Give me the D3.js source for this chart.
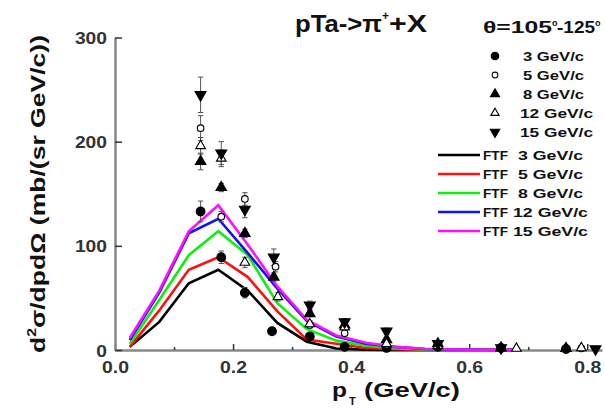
<!DOCTYPE html>
<html><head><meta charset="utf-8">
<script src="https://cdn.jsdelivr.net/npm/d3@7"></script>
<style>
body{margin:0;background:#fff}
text{font-family:"Liberation Sans",Arial,sans-serif;font-weight:bold}
</style>
</head><body>
<svg id="c" width="605" height="409"></svg>
<script>
// ---- data ----
const ptFTF = [0.025,0.075,0.125,0.175,0.225,0.275,0.325,0.375,0.425,0.475,0.525,0.575,0.625,0.675];
const ftf3  = [3, 27, 64, 77, 57, 26, 8, 1.5, 0.3, 0.1, 0, 0, 0, 0];
const ftf5  = [3, 38, 77, 89, 70, 37, 10, 6, 2, 0.8, 0.3, 0.1, 0, 0];
const ftf8  = [6, 48, 91, 114, 91, 45, 20, 9, 4, 1.5, 0.5, 0.2, 0.1, 0];
const ftf12 = [9.5, 55, 112, 126, 93, 59, 28, 13, 6, 3, 1, 0.5, 0.2, 0.1];
const ftf15 = [11.5, 57, 114, 139, 101, 61, 29, 14, 7, 3, 1.2, 0.5, 0.3, 0.1];

// experimental points: [pT, value, error]
const exp3  = [[0.145,133,10],[0.18,89,6],[0.22,55,5],[0.266,18,2],[0.33,13,2],[0.389,3,1],[0.46,2,1],[0.547,3,1],[0.654,2,1],[0.764,1,1]];
const exp5  = [[0.145,213,12],[0.18,128,5],[0.22,145,6],[0.272,80,5],[0.33,24,3],[0.389,16,2],[0.46,5,1],[0.547,4,1],[0.654,1.5,1],[0.79,1.5,1]];
const exp8  = [[0.145,181,8],[0.18,156,4],[0.22,112,4],[0.269,70,4],[0.33,35,3],[0.389,24,2],[0.46,10,2],[0.547,6,1],[0.654,2,1],[0.764,1.5,1]];
const exp12 = [[0.145,196,8],[0.18,184,8],[0.22,84,5],[0.276,51,4],[0.33,25,3],[0.389,22,2],[0.46,6,1],[0.547,4,1],[0.68,1.5,1],[0.79,2,1]];
const exp15 = [[0.145,245,17],[0.18,189,11],[0.22,135,8],[0.269,89,8],[0.33,43,4],[0.389,27,3],[0.46,18,3],[0.547,6,1],[0.654,2,1],[0.814,1,1]];

const expLabels = ["3 GeV/c","5 GeV/c","8 GeV/c","12 GeV/c","15 GeV/c"];
const ftfLabels = ["3 GeV/c","5 GeV/c","8 GeV/c","12 GeV/c","15 GeV/c"];
const ftfColors = ["#000000","#ff1010","#10ee10","#1010ff","#ff10ff"];
const xTicks = [0,0.2,0.4,0.6,0.8];
const xMinor = [0.1,0.3,0.5,0.7];
const yTicks = [0,100,200,300];

// ---- scales ----
const svg = d3.select("#c");
const x = d3.scaleLinear().domain([0,0.825]).range([115,602]);
const y = d3.scaleLinear().domain([0,300]).range([350,37.5]);

// ---- axes ----
const gx = svg.append("g").attr("transform","translate(0,350)")
  .call(d3.axisBottom(x).tickValues(xTicks).tickSize(-6).tickSizeOuter(0).tickFormat(d3.format(".1f")));
const gxm = svg.append("g").attr("transform","translate(0,350)")
  .call(d3.axisBottom(x).tickValues(xMinor).tickSize(-3).tickSizeOuter(0).tickFormat(""));
gxm.select(".domain").remove();
const gy = svg.append("g").attr("transform","translate(115,0)")
  .call(d3.axisLeft(y).tickValues(yTicks).tickSize(-7).tickSizeOuter(0));

[gx,gxm,gy].forEach(g=>{
  g.selectAll(".tick line").attr("stroke","#333").attr("stroke-width",1.5);
});
[gx,gy].forEach(g=>{
  g.select(".domain").attr("stroke","#888").attr("stroke-width",2.5);
});
gx.selectAll("text").attr("y",23).attr("dy",null)
  .attr("font-size",17).attr("fill","#333")
  .attr("textLength",27).attr("lengthAdjust","spacingAndGlyphs");
gy.selectAll("text").attr("x",-8).attr("dy","0.36em")
  .attr("font-size",17).attr("fill","#333")
  .each(function(d){ const n=String(d).length; d3.select(this).attr("textLength",n*10.7).attr("lengthAdjust","spacingAndGlyphs"); });

// ---- FTF lines ----
const line = d3.line().x(d=>x(d[0])).y(d=>y(d[1]));
[ftf3,ftf5,ftf8,ftf12,ftf15].forEach((arr,i)=>{
  svg.append("path").datum(ptFTF.map((p,j)=>[p,arr[j]]))
    .attr("d",line).attr("fill","none").attr("stroke",ftfColors[i])
    .attr("stroke-width",2.6).attr("stroke-linejoin","miter");
});

// ---- markers ----
const markerDefs = [
  {type:d3.symbolCircle, size:60, fill:"#000", rot:0},
  {type:d3.symbolCircle, size:34, fill:"#fff", rot:0},
  {type:d3.symbolTriangle, size:48, fill:"#000", rot:0},
  {type:d3.symbolTriangle, size:40, fill:"#fff", rot:0},
  {type:d3.symbolTriangle, size:52, fill:"#000", rot:180}
];
function drawMarker(g, m, cx, cy, scale){
  g.append("path")
    .attr("d", d3.symbol().type(m.type).size(m.size*scale)())
    .attr("transform",`translate(${cx},${cy}) rotate(${m.rot})`)
    .attr("fill",m.fill).attr("stroke","#000").attr("stroke-width",1.1);
}
const expAll = [exp3,exp5,exp8,exp12,exp15];
const gErr = svg.append("g");
const gPts = svg.append("g");
expAll.forEach((arr,i)=>{
  arr.forEach(([p,v,e])=>{
    const cx = x(p);
    const y0 = y(Math.max(0,v-e)), y1 = y(v+e);
    gErr.append("line").attr("x1",cx).attr("x2",cx).attr("y1",y0).attr("y2",y1)
      .attr("stroke","#555").attr("stroke-width",1);
    [y0,y1].forEach(yy=>gErr.append("line").attr("x1",cx-2.7).attr("x2",cx+2.7)
      .attr("y1",yy).attr("y2",yy).attr("stroke","#555").attr("stroke-width",1));
    drawMarker(gPts, markerDefs[i], cx, y(v), 1);
  });
});

// ---- legend: experiment ----
const legRowsExp = [56,75,94,113,132];
expLabels.forEach((lab,i)=>{
  drawMarker(svg, markerDefs[i], 495, legRowsExp[i], 0.75);
  const two = lab.startsWith("1");
  svg.append("text").attr("x", two?520:523).attr("y",legRowsExp[i]+5)
    .attr("font-size",13).attr("fill","#111")
    .attr("textLength", two?73:61).attr("lengthAdjust","spacingAndGlyphs").text(lab);
});

// ---- legend: FTF ----
const legRowsFtf = [155,174,193,212,231];
ftfLabels.forEach((lab,i)=>{
  svg.append("line").attr("x1",438).attr("x2",480).attr("y1",legRowsFtf[i]).attr("y2",legRowsFtf[i])
    .attr("stroke",ftfColors[i]).attr("stroke-width",2.6);
  svg.append("text").attr("x",483).attr("y",legRowsFtf[i]+5).attr("font-size",13).attr("fill","#111")
    .attr("textLength",25).attr("lengthAdjust","spacingAndGlyphs").text("FTF");
  const two = lab.startsWith("1");
  svg.append("text").attr("x", two?513:518).attr("y",legRowsFtf[i]+5).attr("font-size",13).attr("fill","#111")
    .attr("textLength", two?75:65).attr("lengthAdjust","spacingAndGlyphs").text(lab);
});

// ---- titles ----
svg.append("text").attr("x",295).attr("y",32).attr("font-size",23).attr("fill","#111")
  .attr("textLength",87).attr("lengthAdjust","spacingAndGlyphs").text("pTa->π");
svg.append("text").attr("x",382).attr("y",20).attr("font-size",12).attr("fill","#111").text("+");
svg.append("text").attr("x",389).attr("y",32).attr("font-size",23).attr("fill","#111")
  .attr("textLength",38).attr("lengthAdjust","spacingAndGlyphs").text("+X");

svg.append("text").attr("x",483).attr("y",33).attr("font-size",16).attr("fill","#111")
  .attr("textLength",69).attr("lengthAdjust","spacingAndGlyphs").text("θ=105");
svg.append("text").attr("x",552).attr("y",26).attr("font-size",9).attr("fill","#111").text("o");
svg.append("text").attr("x",557).attr("y",33).attr("font-size",16).attr("fill","#111")
  .attr("textLength",38).attr("lengthAdjust","spacingAndGlyphs").text("-125");
svg.append("text").attr("x",595).attr("y",26).attr("font-size",9).attr("fill","#111").text("o");

// x title
svg.append("text").attr("x",332).attr("y",397).attr("font-size",21).attr("fill","#111")
  .attr("textLength",15).attr("lengthAdjust","spacingAndGlyphs").text("p");
svg.append("text").attr("x",349).attr("y",405).attr("font-size",11).attr("fill","#111").text("T");
svg.append("text").attr("x",364).attr("y",397).attr("font-size",21).attr("fill","#111")
  .attr("textLength",96).attr("lengthAdjust","spacingAndGlyphs").text("(GeV/c)");

// y title
const yt = svg.append("text").attr("transform","translate(45,194) rotate(-90)")
  .attr("text-anchor","middle").attr("font-size",20).attr("fill","#111")
  .attr("textLength",318).attr("lengthAdjust","spacingAndGlyphs");
yt.append("tspan").text("d");
yt.append("tspan").attr("font-size",12).attr("dy",-9).text("2");
yt.append("tspan").attr("dy",9).text("σ/dpdΩ (mb/(sr GeV/c))");
</script>
</body></html>
